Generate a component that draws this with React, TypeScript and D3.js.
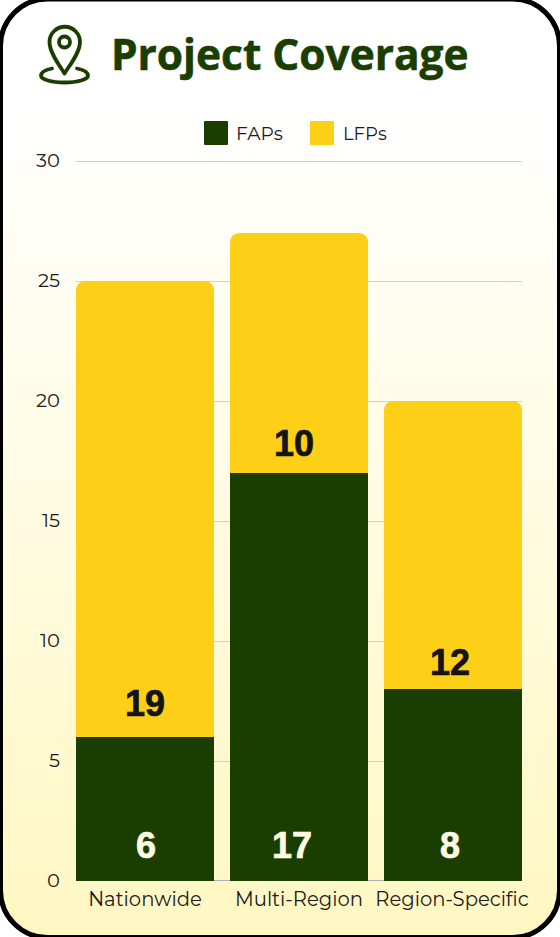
import React from "react";
import * as d3 from "d3";

const categories = ["Nationwide", "Multi-Region", "Region-Specific"];
const faps = [6, 17, 8];
const lfps = [19, 10, 12];
const ticks = [0, 5, 10, 15, 20, 25, 30];
const seriesNames = ["FAPs", "LFPs"];
const green = "#1a3e00";
const yellow = "#fdd017";
const W = 560, H = 937;
const axisFont = "Montserrat, Inter, sans-serif";
const titleFont = "'Open Sans', 'Noto Sans', sans-serif";
const labelFont = "'Liberation Sans', Arial, sans-serif";

export default function App() {
  const x = d3.scaleBand<string>().domain(categories).range([76, 522]).paddingInner(0.104).paddingOuter(0);
  const y = d3.scaleLinear().domain([0, 30]).range([881, 161]);
  const r = 10;
  // hand placement of the value labels in the reference
  const lfpNudgeY = [34, 30, 27];
  const lfpNudgeX = [0, -5, -3];
  const fapNudgeX = [1, -7, -3];
  const topPath = (x0: number, x1: number, yTop: number, yBot: number) => {
    const p = d3.path();
    p.moveTo(x0, yBot);
    p.lineTo(x0, yTop + r);
    p.quadraticCurveTo(x0, yTop, x0 + r, yTop);
    p.lineTo(x1 - r, yTop);
    p.quadraticCurveTo(x1, yTop, x1, yTop + r);
    p.lineTo(x1, yBot);
    p.closePath();
    return p.toString();
  };
  return (
    <svg width={W} height={H} viewBox={`0 0 ${W} ${H}`} style={{ position: "fixed", left: 0, top: 0, display: "block" }}>
      <defs>
        <linearGradient id="bg" x1="0" y1="0" x2="0" y2="1">
          <stop offset="0.12" stopColor="#ffffff" />
          <stop offset="1" stopColor="#fff7c2" />
        </linearGradient>
      </defs>
      <rect width={W} height={H} fill="#ffffff" />
      <rect x={0.5} y={-1} width={559} height={938.5} rx={47} ry={47} fill="url(#bg)" stroke="#000" strokeWidth={5} />

      <g fill="none" stroke={green} strokeWidth={3.8}>
        <path d="M64.5 73.5 C60 66 49.5 53 49.5 42 A15 15 0 0 1 80 42 C80 53 69 66 64.5 73.5 Z" strokeLinejoin="round" />
        <circle cx={64.5} cy={42} r={5.5} />
        <path d="M52 68.5 C45 70 41 72.5 41 75.5 C41 79.5 51.5 82.5 64.5 82.5 C77.5 82.5 88 79.5 88 75.5 C88 72.5 84 70 77 68.5" strokeLinecap="round" />
      </g>
      <text x={111} y={70} fontFamily={titleFont} fontWeight={700} fontSize={42.4} fill={green} stroke={green} strokeWidth={0.6}>Project Coverage</text>

      <rect x={204} y={121} width={24} height={24} rx={1} fill={green} />
      <text x={236} y={140} fontFamily={axisFont} fontSize={18.6} fill="#1c1c1c">{seriesNames[0]}</text>
      <rect x={310} y={121} width={24} height={24} rx={1} fill={yellow} />
      <text x={343} y={140} fontFamily={axisFont} fontSize={18} fill="#1c1c1c">{seriesNames[1]}</text>

      {ticks.map((t) => (
        <g key={t}>
          {t > 0 && <line x1={76} x2={522} y1={y(t) + 0.5} y2={y(t) + 0.5} stroke="#d0d0d0" strokeWidth={1} />}
          <text x={60} y={y(t) - 1} dy="0.36em" textAnchor="end" fontFamily={axisFont} fontSize={19.5} fill="#1c1c1c">{t}</text>
        </g>
      ))}
      <line x1={76} x2={522} y1={880.5} y2={880.5} stroke="#b0b0b0" strokeWidth={1} />

      {categories.map((c, i) => {
        const x0 = x(c)!;
        const bw = x.bandwidth();
        const cx = x0 + bw / 2;
        return (
          <g key={c}>
            <path d={topPath(x0, x0 + bw, y(faps[i] + lfps[i]), y(faps[i]))} fill={yellow} />
            <rect x={x0} y={y(faps[i])} width={bw} height={y(0) - y(faps[i])} fill={green} />
            <text x={cx + lfpNudgeX[i]} y={y(faps[i]) - lfpNudgeY[i]} dy="0.36em" textAnchor="middle" fontFamily={labelFont} fontWeight={700} fontSize={36} fill="#141414" stroke="#141414" strokeWidth={0.7}>{lfps[i]}</text>
            <text x={cx + fapNudgeX[i]} y={y(0) - 36} dy="0.36em" textAnchor="middle" fontFamily={labelFont} fontWeight={700} fontSize={36} fill="#fffbe3" stroke="#fffbe3" strokeWidth={0.7}>{faps[i]}</text>
            <text x={cx + [0, 0, -1][i]} y={906} textAnchor="middle" fontFamily={axisFont} fontSize={19.6} fill="#1c1c1c">{c}</text>
          </g>
        );
      })}
    </svg>
  );
}
